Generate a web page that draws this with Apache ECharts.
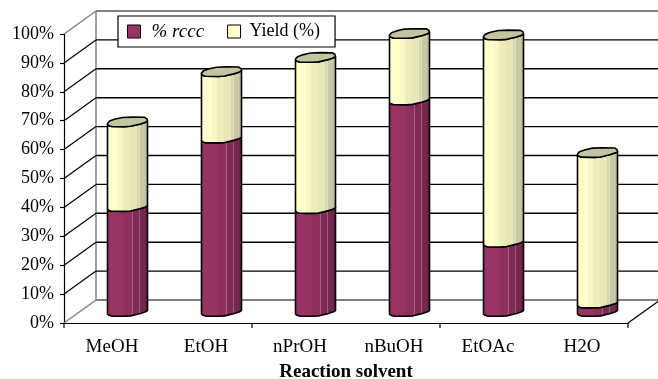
<!DOCTYPE html>
<html>
<head>
<meta charset="utf-8">
<style>
  html, body { margin: 0; padding: 0; background: #fff; }
  #chart { width: 658px; height: 379px; }
</style>
<script src="https://cdn.jsdelivr.net/npm/echarts@6/dist/echarts.min.js"></script>
</head>
<body>
<div id="chart"></div>
<script>
  var solvents = ['MeOH', 'EtOH', 'nPrOH', 'nBuOH', 'EtOAc', 'H2O'];
  var rccc = [36.3, 60, 35.6, 73.2, 24, 2.9];
  var yieldPct = [29.3, 23, 52.3, 23, 71.7, 52.1];
  var yTicks = [0, 10, 20, 30, 40, 50, 60, 70, 80, 90, 100];
  var xTickBands = [0, 2, 4, 6];

  var FONT = '"Liberation Serif", "Times New Roman", serif';
  // oblique projection of the chart box
  var DX = 32;
  var DY = -23;
  var BAR_DX = 16.5;
  var BAR_DY = -11.5;

  var FRONT_EDGE = [[-20, 2.5], [-18.5, 3.8], [-16, 4.6], [-3, 4.8], [3, 4.4], [13, 2], [18, 0.3], [20, -1]];
  var BACK_EDGE = [[20, -1], [19.5, -3], [17, -4.6], [5, -4.8], [-5, -4.4], [-13, -2.6], [-18, -0.8], [-20, 1.5]];

  function bands(list) {
    var stops = [];
    list.forEach(function (b, i) {
      stops.push({ offset: b[0], color: b[1] });
      stops.push({ offset: i < list.length - 1 ? list[i + 1][0] : 1, color: b[1] });
    });
    return { type: 'linear', x: 0, y: 0, x2: 1, y2: 0, colorStops: stops };
  }

  var YELLOW_FILL = bands([
    [0, '#ffffcc'], [0.26, '#f8f8c6'], [0.4, '#ededbc'], [0.56, '#e6e6b8'],
    [0.74, '#d8d8ae'], [0.78, '#dedec0'], [0.8, '#c8c8a2'], [0.92, '#bdbd98']
  ]);
  var MAROON_FILL = bands([
    [0, '#993366'], [0.24, '#963264'], [0.42, '#8e2f5e'], [0.6, '#862c59'],
    [0.62, '#a86088'], [0.64, '#7f2a55'], [0.78, '#a05a80'], [0.8, '#762750'],
    [0.92, '#6b2348']
  ]);

  function edge(points, cx, cy) {
    return points.map(function (p) { return [cx + p[0], cy + p[1]]; });
  }

  function renderCylinder(fill, withCap) {
    return function (params, api) {
      var i = api.value(0);
      var low = api.coord([i, api.value(1)]);
      var high = api.coord([i, api.value(2)]);
      var cx = low[0] + BAR_DX;
      var yLow = low[1] + BAR_DY;
      var yHigh = high[1] + BAR_DY;
      var lowEdge = edge(FRONT_EDGE, cx, yLow);
      var highEdge = edge(FRONT_EDGE, cx, yHigh).reverse();
      var children = [{
        type: 'polygon',
        shape: { points: lowEdge.concat(highEdge) },
        style: { fill: fill, stroke: '#000', lineWidth: 1.6, lineJoin: 'round' }
      }];
      if (withCap) {
        children.push({
          type: 'polygon',
          shape: { points: edge(FRONT_EDGE, cx, yHigh).concat(edge(BACK_EDGE, cx, yHigh)) },
          style: { fill: '#c4c49e', stroke: '#000', lineWidth: 1.6, lineJoin: 'round' }
        });
      }
      return { type: 'group', children: children };
    };
  }

  function renderWall(params, api) {
    var v = api.value(0);
    var y = api.coord([0, v])[1];
    var box = params.coordSys;
    var left = box.x;
    var right = box.x + box.width;
    var edgeLine = v === 0 || v === 100;
    var color = edgeLine ? '#808080' : '#000';
    var children = [
      {
        type: 'line',
        shape: { x1: left, y1: y, x2: left + DX, y2: y + DY },
        style: { stroke: color, lineWidth: edgeLine ? 1.5 : 1.2 }
      },
      {
        type: 'line',
        shape: { x1: left + DX, y1: y + DY, x2: right + DX, y2: y + DY },
        style: { stroke: color, lineWidth: edgeLine ? 2 : 1.4 }
      }
    ];
    if (v === 0) {
      children.push({
        type: 'line',
        shape: { x1: right, y1: y, x2: right + DX, y2: y + DY },
        style: { stroke: '#000', lineWidth: 1.2 }
      });
      children.push({
        type: 'line',
        shape: { x1: left + DX, y1: y + DY, x2: left + DX, y2: box.y + DY },
        style: { stroke: '#808080', lineWidth: 1.5 }
      });
      // category ticks only every second band
      xTickBands.forEach(function (b) {
        var tx = left + box.width * b / solvents.length;
        children.push({
          type: 'line',
          shape: { x1: tx, y1: y, x2: tx, y2: y + 5 },
          style: { stroke: '#000', lineWidth: 1.2 }
        });
      });
    }
    return { type: 'group', children: children };
  }

  var rcccRows = solvents.map(function (s, i) { return [i, 0, rccc[i]]; });
  var yieldRows = solvents.map(function (s, i) { return [i, rccc[i], rccc[i] + yieldPct[i]]; });

  var chart = echarts.init(document.getElementById('chart'), null, { renderer: 'canvas' });
  chart.setOption({
    animation: false,
    backgroundColor: '#fff',
    textStyle: { fontFamily: FONT },
    grid: { left: 64, right: 30, top: 34, bottom: 56, containLabel: false, outerBoundsMode: 'none' },
    xAxis: {
      type: 'category',
      data: solvents,
      name: 'Reaction solvent',
      nameLocation: 'middle',
      nameGap: 40,
      nameTextStyle: { fontFamily: FONT, fontSize: 19, fontWeight: 'bold', color: '#000' },
      axisLine: { lineStyle: { color: '#000', width: 1.2 } },
      axisTick: { show: false },
      axisLabel: { fontFamily: FONT, fontSize: 19, color: '#000', margin: 15, interval: 0, padding: [0, 0, 0, 2] }
    },
    yAxis: {
      type: 'value',
      min: 0,
      max: 100,
      interval: 10,
      axisLine: { show: true, lineStyle: { color: '#000', width: 1.2 } },
      axisTick: { show: true, length: 4, lineStyle: { color: '#000', width: 1.2 } },
      axisLabel: { fontFamily: FONT, fontSize: 18, color: '#000', margin: 10, padding: [2, 0, 0, 0], formatter: '{value}%' },
      splitLine: { show: false }
    },
    legend: {
      left: 118,
      top: 16,
      orient: 'horizontal',
      padding: [6, 15, 6, 9],
      itemGap: 23,
      itemWidth: 13,
      itemHeight: 13,
      backgroundColor: '#fff',
      borderColor: '#000',
      borderWidth: 1.2,
      borderRadius: 0,
      textStyle: { fontFamily: FONT, fontSize: 18, color: '#000' },
      data: [
        { name: '% rccc', icon: 'rect', textStyle: { fontStyle: 'italic', fontSize: 19, padding: [0, 0, 0, 6] }, itemStyle: { color: '#993366', borderColor: '#000', borderWidth: 1 } },
        { name: 'Yield (%)', icon: 'rect', textStyle: { padding: [0, 0, 3, 4] }, itemStyle: { color: '#ffffcc', borderColor: '#000', borderWidth: 1 } }
      ]
    },
    series: [
      {
        type: 'custom',
        silent: true,
        clip: false,
        z: 1,
        data: yTicks.map(function (v) { return [v]; }),
        encode: { y: 0 },
        renderItem: renderWall
      },
      {
        name: '% rccc',
        type: 'custom',
        clip: false,
        z: 2,
        itemStyle: { color: '#993366' },
        data: rcccRows,
        encode: { x: 0, y: [1, 2] },
        renderItem: renderCylinder(MAROON_FILL, false)
      },
      {
        name: 'Yield (%)',
        type: 'custom',
        clip: false,
        z: 3,
        itemStyle: { color: '#ffffcc' },
        data: yieldRows,
        encode: { x: 0, y: [1, 2] },
        renderItem: renderCylinder(YELLOW_FILL, true)
      }
    ]
  });
</script>
</body>
</html>
